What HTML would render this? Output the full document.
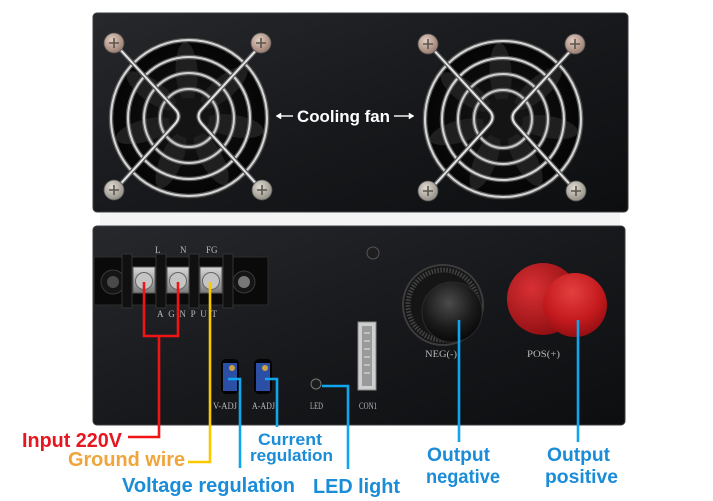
<!DOCTYPE html>
<html><head><meta charset="utf-8"><style>
html,body{margin:0;padding:0;background:#fff;}
svg{display:block;}
text{font-family:"Liberation Sans",Arial,sans-serif;}
.lbl{font-family:"Liberation Serif",serif;fill:#b8b8b8;font-size:9px;}
</style></head><body>
<svg width="713" height="501" viewBox="0 0 713 501" xmlns="http://www.w3.org/2000/svg">
<defs>
  <linearGradient id="boxg" x1="0" y1="0" x2="1" y2="1">
    <stop offset="0" stop-color="#26282c"/>
    <stop offset="0.5" stop-color="#17191c"/>
    <stop offset="1" stop-color="#0d0e10"/>
  </linearGradient>
  <radialGradient id="fanbg" cx="0.5" cy="0.5" r="0.5">
    <stop offset="0" stop-color="#1a1a1a"/>
    <stop offset="0.6" stop-color="#0b0b0b"/>
    <stop offset="0.95" stop-color="#050505"/>
    <stop offset="1" stop-color="#222"/>
  </radialGradient>
  <radialGradient id="screwg" cx="0.4" cy="0.35" r="0.7">
    <stop offset="0" stop-color="#e0dcd4"/>
    <stop offset="1" stop-color="#8e8a80"/>
  </radialGradient>
  <radialGradient id="screwc" cx="0.4" cy="0.35" r="0.7">
    <stop offset="0" stop-color="#e2cfc2"/>
    <stop offset="1" stop-color="#96776a"/>
  </radialGradient>
  <linearGradient id="plate" x1="0" y1="0" x2="0" y2="1">
    <stop offset="0" stop-color="#d8d8d8"/>
    <stop offset="1" stop-color="#7a7a7a"/>
  </linearGradient>
  <radialGradient id="negcap" cx="0.45" cy="0.35" r="0.7">
    <stop offset="0" stop-color="#4a4a4a"/>
    <stop offset="0.6" stop-color="#1a1a1a"/>
    <stop offset="1" stop-color="#050505"/>
  </radialGradient>
  <radialGradient id="poscap" cx="0.45" cy="0.3" r="0.75">
    <stop offset="0" stop-color="#e44040"/>
    <stop offset="0.6" stop-color="#c41a1e"/>
    <stop offset="1" stop-color="#8a0d10"/>
  </radialGradient>
  <radialGradient id="posback" cx="0.35" cy="0.35" r="0.75">
    <stop offset="0" stop-color="#d83034"/>
    <stop offset="1" stop-color="#8a0c10"/>
  </radialGradient>
  <g id="fan">
    <circle r="81" fill="url(#fanbg)"/>
    <g fill="#1f1f1f">
      <ellipse cx="46" cy="0" rx="30" ry="11" transform="rotate(10)"/>
      <ellipse cx="46" cy="0" rx="30" ry="11" transform="rotate(61)"/>
      <ellipse cx="46" cy="0" rx="30" ry="11" transform="rotate(113)"/>
      <ellipse cx="46" cy="0" rx="30" ry="11" transform="rotate(164)"/>
      <ellipse cx="46" cy="0" rx="30" ry="11" transform="rotate(216)"/>
      <ellipse cx="46" cy="0" rx="30" ry="11" transform="rotate(267)"/>
      <ellipse cx="46" cy="0" rx="30" ry="11" transform="rotate(319)"/>
    </g>
    <circle r="20" fill="#141414"/>
    <g fill="none">
      <circle r="78" stroke="#5a5a5a" stroke-width="4.5"/>
      <circle r="78" stroke="#d6d6d6" stroke-width="2"/>
      <circle r="61" stroke="#5a5a5a" stroke-width="4.5"/>
      <circle r="61" stroke="#d6d6d6" stroke-width="2"/>
      <circle r="45" stroke="#5a5a5a" stroke-width="4.5"/>
      <circle r="45" stroke="#d0d0d0" stroke-width="2"/>
      <circle r="29" stroke="#5a5a5a" stroke-width="4.5"/>
      <circle r="29" stroke="#cacaca" stroke-width="2"/>
      <path d="M-73,-73 L-14,-9 Q-7,-2 -14,6 L-73,71" stroke="#555" stroke-width="4.5" stroke-linejoin="round"/>
      <path d="M-73,-73 L-14,-9 Q-7,-2 -14,6 L-73,71" stroke="#e4e4e4" stroke-width="2"/>
      <path d="M72,-73 L13,-9 Q6,-2 13,6 L72,71" stroke="#555" stroke-width="4.5" stroke-linejoin="round"/>
      <path d="M72,-73 L13,-9 Q6,-2 13,6 L72,71" stroke="#e4e4e4" stroke-width="2"/>
    </g>
    <g stroke="#555" stroke-width="0.8">
      <circle cx="-75" cy="-75" r="10" fill="url(#screwc)"/>
      <circle cx="72" cy="-75" r="10" fill="url(#screwc)"/>
      <circle cx="-75" cy="72" r="10" fill="url(#screwg)"/>
      <circle cx="73" cy="72" r="10" fill="url(#screwg)"/>
    </g>
    <g stroke="#5a554c" stroke-width="1.6">
      <path d="M-80,-75 h10 M-75,-80 v10"/>
      <path d="M67,-75 h10 M72,-80 v10"/>
      <path d="M-80,72 h10 M-75,67 v10"/>
      <path d="M68,72 h10 M73,67 v10"/>
    </g>
  </g>
</defs>

<rect width="713" height="501" fill="#fff"/>
<rect x="100" y="213" width="520" height="12" fill="#f4f4f4"/>

<!-- Top box -->
<rect x="93" y="13" width="535" height="199" rx="4" fill="url(#boxg)" stroke="#3a3c40" stroke-width="1"/>
<use href="#fan" transform="translate(189,118)"/>
<use href="#fan" transform="translate(503,119)"/>

<!-- Cooling fan label -->
<g stroke="#fff" stroke-width="1.4" fill="#fff">
  <line x1="279" y1="116" x2="293" y2="116"/>
  <path d="M276,116 l5,-3 v6 z" stroke-width="0.5"/>
  <line x1="394" y1="116" x2="410" y2="116"/>
  <path d="M414,116 l-5,-3 v6 z" stroke-width="0.5"/>
</g>
<text x="297" y="122" font-size="16.5" font-weight="bold" fill="#fff" textLength="93" lengthAdjust="spacingAndGlyphs">Cooling fan</text>

<!-- Bottom box -->
<rect x="93" y="226" width="532" height="199" rx="4" fill="url(#boxg)" stroke="#3a3c40" stroke-width="1"/>

<!-- Terminal block -->
<rect x="94" y="257" width="174" height="48" fill="#0a0a0a" stroke="#2c2c2c"/>
<circle cx="113" cy="282" r="12" fill="#151515" stroke="#3a3a3a"/>
<circle cx="113" cy="282" r="6" fill="#4a4a4a"/>
<circle cx="244" cy="282" r="11" fill="#151515" stroke="#3a3a3a"/>
<circle cx="244" cy="282" r="6" fill="#777"/>
<g fill="#101010" stroke="#333">
  <rect x="122" y="254" width="10" height="54"/>
  <rect x="156" y="254" width="10" height="54"/>
  <rect x="189" y="254" width="10" height="54"/>
  <rect x="223" y="254" width="10" height="54"/>
</g>
<g fill="url(#plate)" stroke="#555">
  <rect x="133" y="267" width="22" height="26"/>
  <rect x="167" y="267" width="22" height="26"/>
  <rect x="200" y="267" width="22" height="26"/>
</g>
<g fill="#c4c4c4" stroke="#666">
  <circle cx="144" cy="281" r="8.5"/>
  <circle cx="178" cy="281" r="8.5"/>
  <circle cx="211" cy="281" r="8.5"/>
</g>
<text class="lbl" x="155" y="253">L</text>
<text class="lbl" x="180" y="253">N</text>
<text class="lbl" x="206" y="253">FG</text>
<text class="lbl" x="157" y="317" fill="#a8a8a8" textLength="60" lengthAdjust="spacing">AGNPUT</text>

<!-- small screw -->
<circle cx="373" cy="253" r="6" fill="#1e1e1e" stroke="#555"/>

<!-- pots -->
<rect x="221" y="359" width="18" height="35" rx="5" fill="#030303"/>
<rect x="223" y="363" width="14" height="28" fill="#2c4fa6"/>
<circle cx="232" cy="368" r="3" fill="#c9a244"/>
<rect x="254" y="359" width="18" height="35" rx="5" fill="#030303"/>
<rect x="256" y="363" width="14" height="28" fill="#2c4fa6"/>
<circle cx="265" cy="368" r="3" fill="#c9a244"/>
<text class="lbl" x="213" y="409" textLength="24" lengthAdjust="spacingAndGlyphs">V-ADJ</text>
<text class="lbl" x="252" y="409" textLength="23" lengthAdjust="spacingAndGlyphs">A-ADJ</text>

<!-- LED -->
<circle cx="316" cy="384" r="5" fill="#1c1c1c" stroke="#777" stroke-width="1"/>
<text class="lbl" x="310" y="409" textLength="13" lengthAdjust="spacingAndGlyphs">LED</text>

<!-- CON1 -->
<rect x="358" y="322" width="18" height="68" fill="#cfcfcf" stroke="#888"/>
<rect x="362" y="326" width="10" height="60" fill="#9a9a9a"/>
<g stroke="#e8e8e8" stroke-width="1">
  <line x1="364" y1="333" x2="370" y2="333"/><line x1="364" y1="341" x2="370" y2="341"/>
  <line x1="364" y1="349" x2="370" y2="349"/><line x1="364" y1="357" x2="370" y2="357"/>
  <line x1="364" y1="365" x2="370" y2="365"/><line x1="364" y1="373" x2="370" y2="373"/>
</g>
<text class="lbl" x="359" y="409" textLength="18" lengthAdjust="spacingAndGlyphs">CON1</text>

<!-- NEG knob -->
<circle cx="443" cy="305" r="40" fill="#151515" stroke="#3c3c3c" stroke-width="2"/>
<circle cx="443" cy="305" r="35" fill="none" stroke="#444" stroke-width="5" stroke-dasharray="1.5 1.5"/>
<circle cx="452" cy="312" r="30" fill="url(#negcap)" stroke="#2a2a2a"/>
<text class="lbl" x="425" y="357" font-size="10" textLength="32" lengthAdjust="spacingAndGlyphs">NEG(-)</text>

<!-- POS knob -->
<circle cx="543" cy="299" r="36" fill="url(#posback)"/>
<circle cx="575" cy="305" r="32" fill="url(#poscap)"/>
<text class="lbl" x="527" y="357" font-size="10" textLength="33" lengthAdjust="spacingAndGlyphs">POS(+)</text>

<!-- connector lines -->
<g fill="none" stroke-width="2.6">
  <polyline points="144,282 144,336 178,336 178,282" stroke="#f01414"/>
  <polyline points="159,336 159,437 128,437" stroke="#f01414"/>
  <polyline points="210,282 210,462 188,462" stroke="#f8c800"/>
  <polyline points="228,379 240,379 240,468" stroke="#10a6ee"/>
  <polyline points="265,379 277,379 277,427" stroke="#10a6ee"/>
  <polyline points="322,386 348,386 348,469" stroke="#10a6ee"/>
  <line x1="459" y1="320" x2="459" y2="442" stroke="#10a6ee"/>
  <line x1="578" y1="320" x2="578" y2="442" stroke="#10a6ee"/>
</g>

<!-- annotation labels -->
<g font-weight="bold">
  <text x="22" y="447" font-size="20" fill="#e8161e" textLength="100" lengthAdjust="spacingAndGlyphs">Input 220V</text>
  <text x="68" y="466" font-size="20" fill="#f0a53c" textLength="117" lengthAdjust="spacingAndGlyphs">Ground wire</text>
  <text x="122" y="492" font-size="20" fill="#1a8cd8" textLength="173" lengthAdjust="spacingAndGlyphs">Voltage regulation</text>
  <text x="258" y="445" font-size="17" fill="#1a8cd8" textLength="64" lengthAdjust="spacingAndGlyphs">Current</text>
  <text x="250" y="461" font-size="17" fill="#1a8cd8" textLength="83" lengthAdjust="spacingAndGlyphs">regulation</text>
  <text x="313" y="493" font-size="20" fill="#1a8cd8" textLength="87" lengthAdjust="spacingAndGlyphs">LED light</text>
  <text x="427" y="461" font-size="19" fill="#1a8cd8" textLength="63" lengthAdjust="spacingAndGlyphs">Output</text>
  <text x="426" y="483" font-size="19" fill="#1a8cd8" textLength="74" lengthAdjust="spacingAndGlyphs">negative</text>
  <text x="547" y="461" font-size="19" fill="#1a8cd8" textLength="63" lengthAdjust="spacingAndGlyphs">Output</text>
  <text x="545" y="483" font-size="19" fill="#1a8cd8" textLength="73" lengthAdjust="spacingAndGlyphs">positive</text>
</g>
</svg>
</body></html>
